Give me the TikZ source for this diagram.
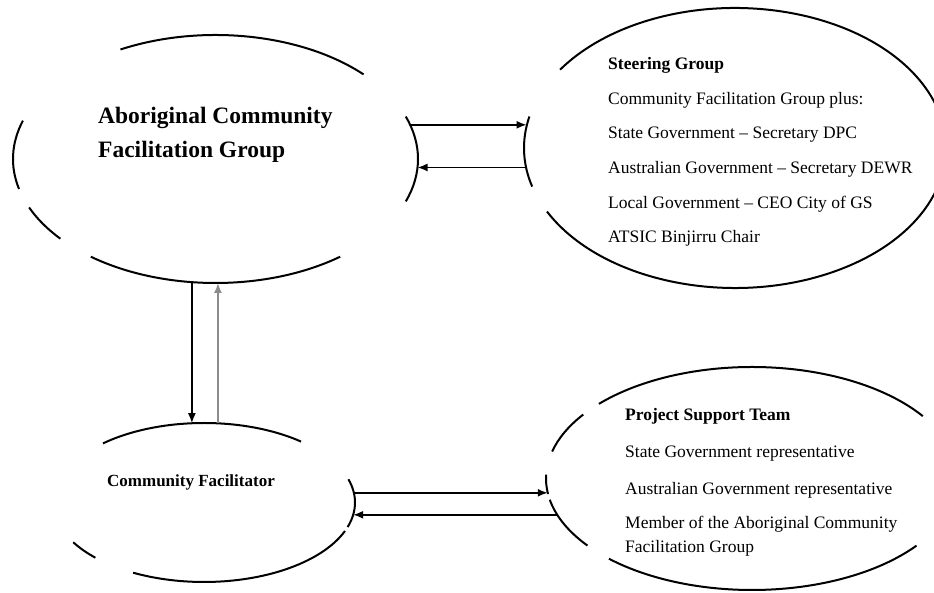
\documentclass[tikz,border=0pt]{standalone}
\usepackage{fontspec}
\setmainfont{Liberation Serif}
\usetikzlibrary{arrows.meta}

% an ellipse drawn in pieces: centre, x radius, y radius, start/end angles
\newcommand{\brokenring}[4]{%
  \foreach \a/\b in {#4}
    \draw[ring] (#1) ++(\a:#2 and #3) arc[start angle=\a, end angle=\b, x radius=#2, y radius=#3];}

\begin{document}
\begin{tikzpicture}[x=1pt,y=1pt,>={Latex[length=10pt,width=8pt]},
    ring/.style={line width=2pt},
    flow/.style={->,line width=1.7pt},
    faint/.style={flow,draw=black!45},
    title/.style={align=left,inner sep=0pt,anchor=west,font=\bfseries\fontsize{23.5}{34}\selectfont},
    members/.style={align=left,inner sep=0pt,anchor=west,font=\fontsize{17.5}{34.6}\selectfont}]
  \useasboundingbox (0,0) rectangle (934,593);

  \coordinate (acfg) at (215.5,434);
  \coordinate (steer) at (735,445);
  \coordinate (cf) at (204,90.5);
  \coordinate (pst) at (752,114.5);

  \brokenring{acfg}{202.5pt}{124pt}{43/118, 162/194, 203/220, 232/308, -20/20}
  \brokenring{steer}{211pt}{140pt}{167/196, 207/506}
  \brokenring{cf}{151pt}{79.5pt}{50/132, 210/224, 242/339, -18/17}
  \brokenring{pst}{206pt}{111.5pt}{34/138, 145/166, 178/188, 191/217, 226/323}

  \node[title] (acfg-txt) at (98,458) {Aboriginal Community\\Facilitation Group};
  \node[members] (steer-txt) at (608,441) {\textbf{Steering Group}\\
    Community Facilitation Group plus:\\
    State Government -- Secretary DPC\\
    Australian Government -- Secretary DEWR\\
    Local Government -- CEO City of GS\\
    ATSIC Binjirru Chair};
  \node[title,font=\bfseries\fontsize{17}{20}\selectfont] (cf-txt) at (107,111) {Community Facilitator};
  \node[members,font=\fontsize{17.5}{23.5}\selectfont] (pst-txt) at (625,110.5) {\textbf{Project Support Team}\\[13.5pt]
    State Government representative\\[13.5pt]
    Australian Government representative\\[10.5pt]
    Member of the Aboriginal Community\\
    Facilitation Group};

  % arrow ends on the rings
  \path (acfg) ++(16:202.5pt and 124pt) coordinate (acfg-e1)
        (acfg) ++(-4:202.5pt and 124pt) coordinate (acfg-e2)
        (acfg) ++(263.3:202.5pt and 124pt) coordinate (acfg-s1)
        (acfg) ++(270.7:202.5pt and 124pt) coordinate (acfg-s2);
  \path (steer) ++(171:211pt and 140pt) coordinate (steer-w1)
        (steer) ++(188:211pt and 140pt) coordinate (steer-w2);
  \path (cf) ++(94.5:151pt and 79.5pt) coordinate (cf-n1)
        (cf) ++(84.7:151pt and 79.5pt) coordinate (cf-n2)
        (cf) ++(7:151pt and 79.5pt) coordinate (cf-e1)
        (cf) ++(-9:151pt and 79.5pt) coordinate (cf-e2);
  \path (pst) ++(187.5:206pt and 111.5pt) coordinate (pst-w1)
        (pst) ++(199:206pt and 111.5pt) coordinate (pst-w2);

  \draw[flow] (acfg-e1) -- (acfg-e1 -| steer-w1);
  \draw[flow] (steer-w2) -- (steer-w2 -| acfg-e2);
  \draw[flow] (acfg-s1) -- (acfg-s1 |- cf-n1);
  \draw[faint] (cf-n2) -- (cf-n2 |- acfg-s2);
  \draw[flow] (cf-e1) -- (cf-e1 -| pst-w1);
  \draw[flow] (pst-w2) -- (pst-w2 -| cf-e2);
\end{tikzpicture}
\end{document}
